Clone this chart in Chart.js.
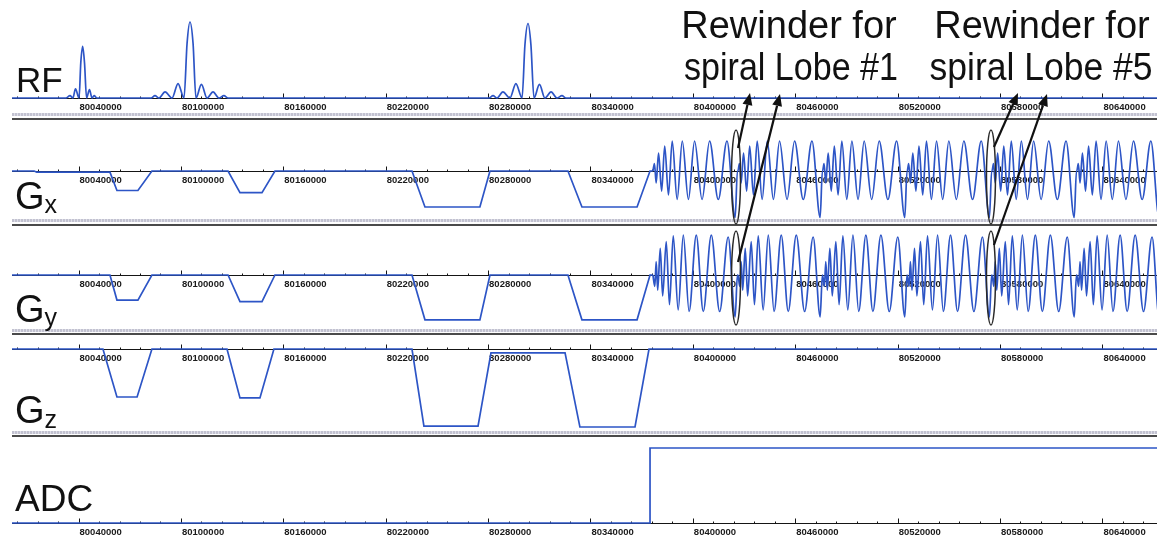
<!DOCTYPE html>
<html>
<head>
<meta charset="utf-8">
<script src="https://cdn.jsdelivr.net/npm/chart.js@4.4.1/dist/chart.umd.min.js"></script>
<style>
  html, body { margin: 0; padding: 0; background: #fff; }
  #wrap { position: relative; width: 1157px; height: 542px; overflow: hidden; }
  .row { position: absolute; left: 12px; }
  .sep { position: absolute; left: 12px; width: 1145px; }
  .band { height: 3px; background: repeating-linear-gradient(90deg, #c2c2d0 0 2px, #dedee8 2px 3px); }
  .dark { height: 2px; background: #4a4a4a; }
  #overlay { position: absolute; left: 0; top: 0; }
</style>
</head>
<body>
<div id="wrap">
  <div class="sep band" style="top:113px"></div><div class="sep dark" style="top:118px"></div>
  <div class="sep band" style="top:219px"></div><div class="sep dark" style="top:224px"></div>
  <div class="sep band" style="top:329px"></div><div class="sep dark" style="top:333px"></div>
  <div class="sep band" style="top:431px"></div><div class="sep dark" style="top:435px"></div>
  <canvas id="overlay" width="1157" height="542"></canvas>
</div>
<script>
const BLUE = '#2d55c6';
const FONT = '"Liberation Sans", Arial, Helvetica, sans-serif';

const xMin = 80001000;
const xMax = 80672000;
const majorTicks = [80040000, 80100000, 80160000, 80220000, 80280000, 80340000,
  80400000, 80460000, 80520000, 80580000, 80640000];
const minorStep = 12000;

// RF magnitude (three sinc pulses)
const rfTimes = [80001000,
  80032600, 80035000, 80036700, 80038200, 80040300, 80041300, 80042400, 80043500, 80044700, 80046400, 80047900, 80049100, 80050800,
  80082500, 80084800, 80087100, 80090700, 80094800, 80098300, 80101800, 80103600, 80105300, 80107100, 80108800, 80112000, 80115300, 80118800, 80122300, 80125200, 80127600,
  80280500, 80282900, 80285200, 80288700, 80292800, 80296300, 80299900, 80301600, 80303400, 80305100, 80306900, 80310100, 80313300, 80316900, 80320400, 80323300, 80325600,
  80672000];
const rfValues = [0,
  0, 0.03, 0, 0.12, 0, 0.46, 0.68, 0.46, 0, 0.11, 0, 0.03, 0,
  0, 0.03, 0, 0.08, 0, 0.19, 0, 0.72, 1.0, 0.72, 0, 0.18, 0, 0.08, 0, 0.03, 0,
  0, 0.03, 0, 0.08, 0, 0.19, 0, 0.7, 0.98, 0.7, 0, 0.18, 0, 0.08, 0, 0.03, 0,
  0];

// trapezoid gradients before the readout
const gxTrapTimes = [80001000, 80014000, 80015500, 80058400, 80062500, 80074800, 80083000,
  80127600, 80134600, 80147500, 80155100, 80235400, 80243000, 80275200, 80281100,
  80326800, 80335000, 80367300, 80374900, 80376600];
const gxTrapValues = [0, 0, -0.04, -0.04, -0.65, -0.65, 0,
  0, -0.72, -0.72, 0, 0, -1.2, -1.2, 0,
  0, -1.2, -1.2, 0, 0];
const gyTrapTimes = [80001000, 80058400, 80062500, 80074800, 80083000,
  80127600, 80134600, 80147500, 80155100, 80235400, 80243000, 80275200, 80281100,
  80326800, 80335000, 80367300, 80374900, 80376600];
const gyTrapValues = [0, 0, -0.66, -0.66, 0,
  0, -0.7, -0.7, 0, 0, -1.18, -1.18, 0,
  0, -1.18, -1.18, 0, 0];
const gzTimes = [80001000, 80054300, 80062500, 80074300, 80083000,
  80127000, 80134600, 80146300, 80154500, 80235400, 80242400, 80274100, 80281700,
  80325100, 80333800, 80366100, 80374300, 80672000];
const gzValues = [0, 0, -1.6, -1.6, 0,
  0, -1.63, -1.63, 0, 0, -2.57, -2.57, -0.13,
  -0.13, -2.6, -2.6, 0, 0];

// spiral readout: lobe start times and one measured lobe per axis
const lobeStarts = [80376600, 80426400, 80476000, 80525600, 80575300, 80625000];
const gxLobeOffsets = [0, 900, 1900, 3300, 5100, 6900, 9100, 11300, 14200, 17200, 20800,
  24400, 28800, 33200, 38300, 43400, 48200, 49500];
const gxLobeValues = [0, 0.25, -0.4, 0.6, -0.67, 0.83, -0.8, 1.0, -0.95, 1.0, -0.95,
  1.0, -0.95, 1.0, -0.95, 1.0, -1.55, 0];
const gyLobeOffsets = [0, 1100, 1900, 2800, 4300, 5700, 7800, 9700, 11900, 14800, 17800,
  21200, 25400, 29500, 34200, 39100, 44100, 48200, 49500];
const gyLobeValues = [0, -0.3, 0.35, -0.4, 0.7, -0.55, 0.88, -0.78, 1.03, -0.92, 1.05,
  -0.96, 1.05, -0.96, 1.05, -0.96, 1.0, -1.1, 0];

const adcTimes = [80001000, 80374900, 80374900, 80672000];
const adcValues = [0, 0, 1, 1];

// rewinders that are circled
const rewinderMarks = [80425300, 80574700];

function pts(times, values) {
  return times.map((t, i) => ({ x: t, y: values[i] }));
}
function spiral(offsets, values) {
  const out = [];
  lobeStarts.forEach(t0 => offsets.forEach((o, i) => out.push({ x: t0 + o, y: values[i] })));
  return out;
}

const axisPlugin = {
  id: 'baseAxis',
  beforeDatasetsDraw(chart) {
    const { ctx, scales: { x, y } } = chart;
    const y0 = Math.round(y.getPixelForValue(0)) + 0.5;
    ctx.save();
    ctx.strokeStyle = '#151515';
    ctx.lineWidth = 1.2;
    ctx.beginPath();
    ctx.moveTo(0, y0);
    ctx.lineTo(chart.width, y0);
    ctx.stroke();
    ctx.lineWidth = 1;
    for (let t = majorTicks[0] - 3 * minorStep; t <= xMax; t += minorStep) {
      const px = Math.round(x.getPixelForValue(t)) + 0.5;
      const major = majorTicks.includes(t);
      ctx.beginPath();
      ctx.moveTo(px, y0);
      ctx.lineTo(px, y0 - (major ? 5 : 2));
      ctx.stroke();
    }
    ctx.fillStyle = '#1a1a1a';
    ctx.font = 'bold 9.5px ' + FONT;
    ctx.textAlign = 'left';
    ctx.textBaseline = 'top';
    majorTicks.forEach(t => {
      ctx.fillText(String(t), x.getPixelForValue(t) + 1, y0 + 4);
    });
    ctx.restore();
  }
};

const wrap = document.getElementById('wrap');
const overlay = document.getElementById('overlay');

function makeRow(top, height, yMin, yMax, datasets) {
  const canvas = document.createElement('canvas');
  canvas.width = 1145;
  canvas.height = height;
  canvas.className = 'row';
  canvas.style.top = top + 'px';
  wrap.insertBefore(canvas, overlay);
  return new Chart(canvas, {
    type: 'line',
    data: {
      datasets: datasets.map(d => ({
        data: d.data,
        borderColor: BLUE,
        borderWidth: 1.7,
        pointRadius: 0,
        fill: false,
        tension: 0,
        cubicInterpolationMode: d.smooth ? 'monotone' : 'default',
        clip: false
      }))
    },
    options: {
      responsive: false,
      animation: false,
      devicePixelRatio: 1,
      events: [],
      layout: { padding: 0 },
      plugins: { legend: { display: false }, tooltip: { enabled: false } },
      scales: {
        x: { type: 'linear', min: xMin, max: xMax, display: false },
        y: { min: yMin, max: yMax, display: false }
      }
    },
    plugins: [axisPlugin]
  });
}

const rfChart = makeRow(0, 112, -0.1842, 1.2895, [{ data: pts(rfTimes, rfValues), smooth: true }]);
const gxChart = makeRow(119, 100, -1.6, 1.7333, [
  { data: pts(gxTrapTimes, gxTrapValues) },
  { data: spiral(gxLobeOffsets, gxLobeValues), smooth: true }
]);
const gyChart = makeRow(226, 104, -1.4474, 1.2895, [
  { data: pts(gyTrapTimes, gyTrapValues) },
  { data: spiral(gyLobeOffsets, gyLobeValues), smooth: true }
]);
const gzChart = makeRow(337, 92, -2.6667, 0.4, [{ data: pts(gzTimes, gzValues) }]);
const adcChart = makeRow(440, 102, -0.2533, 1.1067, [{ data: pts(adcTimes, adcValues) }]);

// labels, circled rewinders and arrows
const ctx = overlay.getContext('2d');
ctx.fillStyle = '#111';
ctx.textBaseline = 'alphabetic';

ctx.font = '35px ' + FONT;
ctx.fillText('RF', 16, 92);
ctx.font = '37px ' + FONT;
ctx.fillText('ADC', 15, 511);

function gLabel(sub, yBase, subBase) {
  ctx.font = '38px ' + FONT;
  ctx.fillText('G', 15, yBase);
  const w = ctx.measureText('G').width;
  ctx.font = '25px ' + FONT;
  ctx.fillText(sub, 15 + w, subBase);
}
gLabel('x', 209, 213);
gLabel('y', 322, 326);
gLabel('z', 423, 428);

ctx.textAlign = 'center';
ctx.font = '38px ' + FONT;
ctx.fillText('Rewinder for', 789, 38);
ctx.fillText('spiral Lobe #1', 791, 80, 214);
ctx.fillText('Rewinder for', 1042, 38, 221);
ctx.fillText('spiral Lobe #5', 1041, 80, 223);

const toPage = t => gxChart.scales.x.getPixelForValue(t) + 12;
ctx.strokeStyle = '#2a2a2a';
ctx.lineWidth = 1.5;
rewinderMarks.forEach(t => {
  const cx = toPage(t);
  [177, 278].forEach(cy => {
    ctx.beginPath();
    ctx.ellipse(cx, cy, 4.5, 47, 0, 0, Math.PI * 2);
    ctx.stroke();
  });
});

function arrow(x1, y1, x2, y2) {
  const a = Math.atan2(y2 - y1, x2 - x1);
  const len = 12, half = 5;
  const bx = x2 - len * Math.cos(a), by = y2 - len * Math.sin(a);
  ctx.strokeStyle = '#111';
  ctx.lineWidth = 2.2;
  ctx.beginPath();
  ctx.moveTo(x1, y1);
  ctx.lineTo(bx, by);
  ctx.stroke();
  ctx.beginPath();
  ctx.moveTo(x2, y2);
  ctx.lineTo(bx + half * Math.sin(a), by - half * Math.cos(a));
  ctx.lineTo(bx - half * Math.sin(a), by + half * Math.cos(a));
  ctx.closePath();
  ctx.fill();
}
const m0 = toPage(rewinderMarks[0]);
const m1 = toPage(rewinderMarks[1]);
arrow(m0 + 2, 148, 750, 93);
arrow(m0 + 2, 262, 780, 94);
arrow(m1 + 3, 147, 1018, 93);
arrow(m1 + 3, 245, 1047, 94);
</script>
</body>
</html>
